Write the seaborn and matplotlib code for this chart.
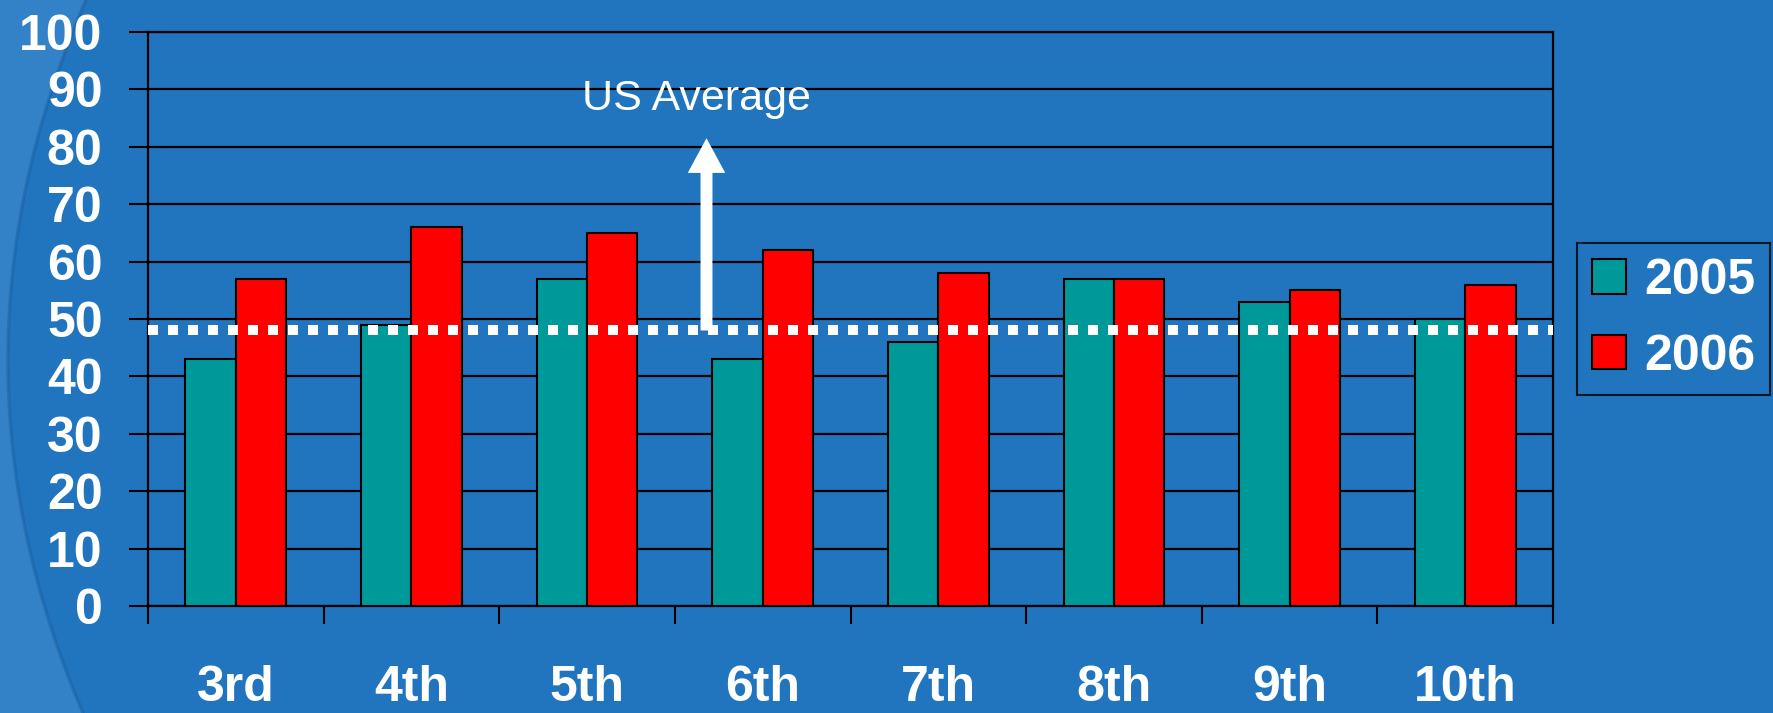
import matplotlib
matplotlib.use('Agg')
import matplotlib.pyplot as plt
import seaborn as sns
import pandas as pd
import numpy as np
from matplotlib.patches import Polygon, Patch

# ---- data ----
grades = ['3rd', '4th', '5th', '6th', '7th', '8th', '9th', '10th']
scores_2005 = [43, 49, 57, 43, 46, 57, 53, 50]
scores_2006 = [57, 66, 65, 62, 58, 57, 55, 56]
years = ['2005', '2006']
us_average = 48
y_ticks = list(range(0, 101, 10))
arrow_x = 2.68
arrow_top = 81.5

BG = '#2175BE'
COLORS = {'2005': '#009999', '2006': '#FF0000'}

df = pd.DataFrame({
    'Grade': grades * 2,
    'Score': scores_2005 + scores_2006,
    'Year': [years[0]] * len(grades) + [years[1]] * len(grades),
})

sns.set_style('ticks')
plt.rcParams['font.family'] = ['Liberation Sans', 'DejaVu Sans']

W, H = 1773, 713
fig = plt.figure(figsize=(W / 100, H / 100), dpi=100, facecolor=BG)

# decorative lighter swoosh at left edge (background)
ys = np.linspace(0, H, 80)
xs = 8 + 78 * ((ys - 360) / 360) ** 2
pts = [(0, 1)] + [(x / W, 1 - y / H) for x, y in zip(xs, ys)] + [(0, 0)]
fig.patches.append(Polygon(pts, closed=True, transform=fig.transFigure,
                           facecolor='#4A93D4', edgecolor='none', alpha=0.45, zorder=-2))
fig.lines.append(plt.Line2D([x / W for x in xs], [1 - y / H for y in ys],
                            transform=fig.transFigure, color='#1B5E9E', lw=2.5,
                            alpha=0.5, zorder=-1))

ax = fig.add_axes([148 / W, 107 / H, 1405 / W, 574 / H])
ax.set_facecolor(BG)

sns.barplot(data=df, x='Grade', y='Score', hue='Year', palette=COLORS,
            width=0.573, saturation=1, edgecolor='black', linewidth=1.5,
            legend=False, ax=ax, zorder=3)

ax.set_xlim(-0.5, len(grades) - 0.5)
ax.set_ylim(0, 100)
ax.set_xlabel('')
ax.set_ylabel('')

# gridlines
ax.set_axisbelow(True)
ax.yaxis.grid(True, color='black', lw=1.6)
ax.xaxis.grid(False)

# average dotted line
ax.axhline(us_average, color='white', lw=7.2, linestyle=(0, (1, 1)),
           dash_capstyle='butt', zorder=5)

# arrow
ax.annotate('', xy=(arrow_x, arrow_top), xytext=(arrow_x, us_average),
            arrowprops=dict(arrowstyle='simple,head_length=2.5,head_width=2.7,tail_width=0.86',
                            mutation_scale=10, color='white', shrinkA=0, shrinkB=0, lw=0),
            zorder=6)
fig.text(697 / W, 1 - 110 / H, 'US Average', ha='center', va='baseline',
         fontsize=31, color='white')

# x ticks: major at boundaries, labels as minor at centers
ax.set_xticks(np.arange(-0.5, len(grades), 1))
ax.set_xticklabels([])
ax.set_xticks(range(len(grades)), minor=True)
ax.set_xticklabels(grades, minor=True, fontweight='bold')
ax.tick_params(axis='x', which='major', length=13, width=1.5, color='black', direction='out')
ax.tick_params(axis='x', which='minor', length=0, pad=42.5, labelsize=36, labelcolor='white')

ax.set_yticks(y_ticks)
ax.set_yticklabels([str(t) for t in y_ticks], fontweight='bold')
ax.tick_params(axis='y', length=13.7, width=1.5, color='black', pad=19,
               labelsize=36, labelcolor='white')

for s in ax.spines.values():
    s.set_visible(True)
    s.set_color('black')
    s.set_linewidth(1.6)

# legend
handles = [Patch(facecolor=COLORS[y], edgecolor='black', lw=1.5, label=y) for y in years]
leg = ax.legend(handles=handles, loc='upper left',
                bbox_to_anchor=(1577 / W, 1 - 243 / H), bbox_transform=fig.transFigure,
                borderaxespad=0, frameon=True, fancybox=False,
                prop={'size': 36, 'weight': 'bold'}, handlelength=0.68, handleheight=0.68,
                handletextpad=0.36, labelspacing=0.59, borderpad=0.3)
leg.get_frame().set_facecolor(BG)
leg.get_frame().set_edgecolor('black')
leg.get_frame().set_linewidth(1.5)
for t in leg.get_texts():
    t.set_color('white')

fig.savefig('out.png', dpi=100, facecolor=BG)
